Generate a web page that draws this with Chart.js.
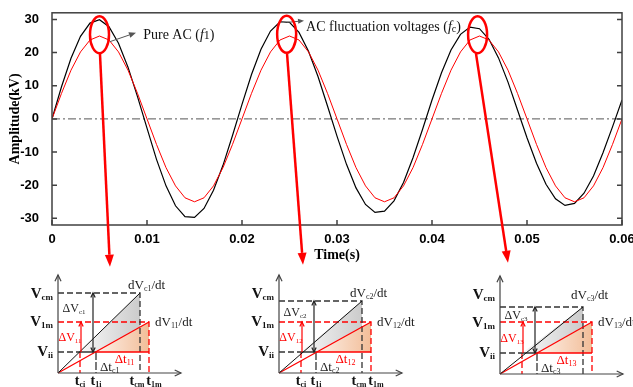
<!DOCTYPE html>
<html>
<head>
<meta charset="utf-8">
<script src="https://cdn.jsdelivr.net/npm/chart.js@4.4.1/dist/chart.umd.min.js"></script>
<style>
  body { margin: 0; background: #fff; }
  #wrap { position: relative; width: 633px; height: 387px; overflow: hidden; }
  #wrap canvas { position: absolute; }
</style>
</head>
<body>
<div id="wrap">
  <canvas id="mainChart" width="633" height="387" style="left:0px;top:0px"></canvas>
  <canvas id="inset0" width="210" height="119" style="left:0px;top:268px"></canvas>
  <canvas id="inset1" width="215" height="119" style="left:212px;top:268px"></canvas>
  <canvas id="inset2" width="208" height="119" style="left:425px;top:268px"></canvas>
</div>
<script>
// --- data ---
const timeS = [0, .001, .002, .003, .004, .005, .006, .007, .008, .009,
  .010, .011, .012, .013, .014, .015, .016, .017, .018, .019,
  .020, .021, .022, .023, .024, .025, .026, .027, .028, .029,
  .030, .031, .032, .033, .034, .035, .036, .037, .038, .039,
  .040, .041, .042, .043, .044, .045, .046, .047, .048, .049,
  .050, .051, .052, .053, .054, .055, .056, .057, .058, .059, .060];

// red curve (Pure AC)
const pureAC = [0, 7.7, 14.7, 20.2, 23.8, 25, 23.8, 20.2, 14.7, 7.7,
  0, -7.7, -14.7, -20.2, -23.8, -25, -23.8, -20.2, -14.7, -7.7,
  0, 7.7, 14.7, 20.2, 23.8, 25, 23.8, 20.2, 14.7, 7.7,
  0, -7.7, -14.7, -20.2, -23.8, -25, -23.8, -20.2, -14.7, -7.7,
  0, 7.7, 14.7, 20.2, 23.8, 25, 23.8, 20.2, 14.7, 7.7,
  0, -7.7, -14.7, -20.2, -23.8, -25, -23.8, -20.2, -14.7, -7.7, 0];

// black curve (AC fluctuation voltages)
const flucAC = [0, 9.7, 18.3, 24.9, 28.9, 29.9, 27.8, 22.8, 15.6, 6.7,
  -2.8, -12.2, -20.2, -26.2, -29.5, -29.7, -27.0, -21.5, -14.0, -5.0,
  4.4, 13.4, 21.0, 26.5, 29.3, 29.1, 26.1, 20.4, 12.8, 3.9,
  -5.2, -13.7, -20.8, -25.8, -28.2, -27.8, -24.7, -19.2, -11.7, -3.2,
  5.7, 13.9, 20.8, 25.5, 27.7, 27.2, 24.0, 18.4, 11.1, 2.7,
  -5.7, -13.4, -19.7, -24.1, -26.1, -25.5, -22.4, -17.2, -10.2, -2.4, 5.7];

const xTicks = [0, 0.01, 0.02, 0.03, 0.04, 0.05, 0.06];
const yTicks = [-30, -20, -10, 0, 10, 20, 30];

// red rings round the peaks and the arrows that leave them (data units)
const ringCentres = [[0.0050, 25.4], [0.0247, 25.5], [0.0448, 25.4]];
const ringTails = [[0.00505, 19.7], [0.02474, 19.7], [0.04463, 19.7]];
const ringTips = [[0.0061, -44.6], [0.02642, -44.0], [0.0480, -43.4]];

// small sketches under the chart (schematic units)
const insetNo = ['1', '2', '3'];
const insetVcm = [80, 72, 67];
const insetV1m = [51, 51, 52];
const insetVii = [21, 21, 21];
const insetTci = [22, 22, 22];
const insetT1i = [38, 37, 37];
const insetTcm = [82, 83, 83];
const insetT1m = [91, 92, 92];
const insetTimeLabels = [true, true, false];

const SERIF = '"Liberation Serif", "Times New Roman", serif';
const SANS = '"Liberation Sans", Arial, sans-serif';
const RED = '#ff0000';

// text with subscripts: segs = [text, font, dy]
function richText(ctx, segs, x, y, align, color) {
  let w = 0;
  segs.forEach(s => { ctx.font = s[1]; w += ctx.measureText(s[0]).width; });
  let cx = align === 'center' ? x - w / 2 : align === 'right' ? x - w : x;
  ctx.fillStyle = color;
  ctx.textAlign = 'left';
  ctx.textBaseline = 'alphabetic';
  segs.forEach(s => {
    ctx.font = s[1];
    ctx.fillText(s[0], cx, y + (s[2] || 0));
    cx += ctx.measureText(s[0]).width;
  });
}

function solidArrow(ctx, x0, y0, x1, y1, color, width, len, half) {
  const a = Math.atan2(y1 - y0, x1 - x0);
  const bx = x1 - len * Math.cos(a), by = y1 - len * Math.sin(a);
  ctx.strokeStyle = color; ctx.fillStyle = color; ctx.lineWidth = width;
  ctx.beginPath(); ctx.moveTo(x0, y0); ctx.lineTo(bx, by); ctx.stroke();
  ctx.beginPath();
  ctx.moveTo(x1, y1);
  ctx.lineTo(bx + half * Math.sin(a), by - half * Math.cos(a));
  ctx.lineTo(bx - half * Math.sin(a), by + half * Math.cos(a));
  ctx.closePath(); ctx.fill();
}

function chevron(ctx, x, y, ang, size) {
  ctx.beginPath();
  ctx.moveTo(x - size * Math.cos(ang - 0.45), y - size * Math.sin(ang - 0.45));
  ctx.lineTo(x, y);
  ctx.lineTo(x - size * Math.cos(ang + 0.45), y - size * Math.sin(ang + 0.45));
  ctx.stroke();
}

// --- main chart ---
const mainDecor = {
  id: 'mainDecor',
  afterDatasetsDraw(chart) {
    const { ctx, chartArea: a, scales: { x, y } } = chart;
    const px = v => x.getPixelForValue(v), py = v => y.getPixelForValue(v);
    ctx.save();
    ctx.strokeStyle = '#404040'; ctx.lineWidth = 1.5;
    ctx.strokeRect(a.left, a.top, a.right - a.left, a.bottom - a.top);
    ctx.beginPath();
    yTicks.forEach(v => {
      const yy = py(v);
      ctx.moveTo(a.left, yy); ctx.lineTo(a.left + 5, yy);
      ctx.moveTo(a.right, yy); ctx.lineTo(a.right - 5, yy);
    });
    xTicks.forEach(v => { const xx = px(v); ctx.moveTo(xx, a.bottom); ctx.lineTo(xx, a.bottom - 5); });
    ctx.stroke();

    // labels with pointer arrows
    solidArrow(ctx, px(0.0061), py(23.3), px(0.00884), py(26.0), '#555', 1, 7, 3);
    solidArrow(ctx, px(0.02474), py(29.1), px(0.02653), py(29.6), '#555', 1, 6, 2.5);
    richText(ctx, [['Pure AC (', '14px ' + SERIF], ['f', 'italic 14px ' + SERIF], ['1', '12px ' + SERIF], [')', '14px ' + SERIF]],
      px(0.0096), py(25.7) + 5, 'left', '#111');
    richText(ctx, [['AC fluctuation voltages (', '14px ' + SERIF], ['f', 'italic 14px ' + SERIF], ['c', '10px ' + SERIF, 1], [')', '14px ' + SERIF]],
      px(0.02674), py(28.1) + 5, 'left', '#111');

    // red rings and arrows
    ctx.strokeStyle = RED; ctx.lineWidth = 2.5;
    ringCentres.forEach(c => {
      ctx.beginPath(); ctx.ellipse(px(c[0]), py(c[1]), 9.5, 18.5, 0, 0, Math.PI * 2); ctx.stroke();
    });
    ringTails.forEach((s, i) => {
      solidArrow(ctx, px(s[0]), py(s[1]), px(ringTips[i][0]), py(ringTips[i][1]), RED, 2.5, 12, 4.5);
    });
    ctx.restore();
  }
};

const xy = ys => timeS.map((t, i) => ({ x: t, y: ys[i] }));

new Chart(document.getElementById('mainChart'), {
  type: 'scatter',
  data: {
    datasets: [
      { data: xy(pureAC), showLine: true, borderColor: RED, borderWidth: 1, pointRadius: 0, order: 0 },
      { data: xy(flucAC), showLine: true, borderColor: '#000', borderWidth: 1.2, pointRadius: 0, order: 1 },
      { data: [{ x: xTicks[0], y: 0 }, { x: xTicks[xTicks.length - 1], y: 0 }], showLine: true,
        borderColor: '#555', borderWidth: 1, borderDash: [8, 3, 2, 3], pointRadius: 0, order: 2 }
    ]
  },
  options: {
    responsive: false,
    animation: false,
    layout: { padding: { top: 11, right: 11, left: 0, bottom: 0 } },
    plugins: { legend: { display: false }, tooltip: { enabled: false } },
    scales: {
      x: {
        type: 'linear', min: 0, max: 0.06,
        afterBuildTicks: s => { s.ticks = xTicks.map(v => ({ value: v })); },
        afterFit: s => { s.height = 162; s.paddingLeft = 0; s.paddingRight = 0; },
        grid: { display: false }, border: { display: false },
        ticks: { padding: -1, maxRotation: 0, color: '#000', font: { family: SANS, size: 13, weight: 'bold' }, callback: v => String(v) },
        title: { display: true, text: 'Time(s)', color: '#000', font: { family: SERIF, size: 14, weight: 'bold' }, padding: { top: 0, bottom: 123 } }
      },
      y: {
        min: -32, max: 32,
        afterBuildTicks: s => { s.ticks = yTicks.map(v => ({ value: v })); },
        afterFit: s => { s.width = 52; },
        grid: { display: false }, border: { display: false },
        ticks: { padding: 5, color: '#000', font: { family: SANS, size: 13, weight: 'bold' }, callback: v => String(v) },
        title: { display: true, text: 'Amplitude(kV)', color: '#000', font: { family: SERIF, size: 14, weight: 'bold' }, padding: { top: 7, bottom: 0 } }
      }
    }
  },
  plugins: [mainDecor]
});

// --- the three sketches ---
// canvas left, top, width, height and where the sketch origin sits on the page
const insetPos = [[0, 268, 210, 119, 58, 373], [212, 268, 215, 119, 279, 373], [425, 268, 208, 119, 500, 374]];

function buildInset(i) {
  const pos = insetPos[i];
  const n = insetNo[i];
  const Vcm = insetVcm[i], V1m = insetV1m[i], Vii = insetVii[i];
  const tci = insetTci[i], t1i = insetT1i[i], tcm = insetTcm[i], t1m = insetT1m[i];
  const redAtTcm = V1m * tcm / t1m;
  const xMin = -(pos[4] - pos[0]);
  const yMax = pos[5] - pos[1];

  const seg = (pts, color, width, dash, order) => ({
    data: pts.map(p => ({ x: p[0], y: p[1] })), showLine: true, borderColor: color,
    borderWidth: width, borderDash: dash || [], pointRadius: 0, fill: false, order: order || 1
  });
  const grad = (c0, c1, from, to, fallback) => c => {
    const ch = c.chart;
    if (!ch.chartArea || !ch.scales.x) return fallback;
    const g = ch.ctx.createLinearGradient(ch.scales.x.getPixelForValue(from), 0, ch.scales.x.getPixelForValue(to), 0);
    g.addColorStop(0, c0); g.addColorStop(1, c1);
    return g;
  };

  const datasets = [
    seg([[0, 0], [tcm, Vcm]], '#111', 1),
    seg([[0, 0], [t1m, V1m]], RED, 1.3),
    seg([[t1i, Vii], [t1m, Vii]], RED, 1.6),
    seg([[tci, Vii], [t1i, Vii]], '#333', 1.5),
    seg([[0, Vcm], [tcm, Vcm], [tcm, 0]], '#333', 1.3, [6, 3]),
    seg([[0, V1m], [t1m, V1m], [t1m, 0]], RED, 1.3, [6, 3]),
    seg([[0, Vii], [tci, Vii]], '#333', 1.3, [6, 3]),
    seg([[tci, Vii], [tci, 0]], RED, 1.3, [6, 3]),
    seg([[t1i, Vii], [t1i, 0]], '#333', 1.3, [8, 2]),
    { data: [[tci, Vii], [tcm, Vcm], [tcm, redAtTcm], [t1i, Vii]].map(p => ({ x: p[0], y: p[1] })),
      showLine: true, borderWidth: 0, pointRadius: 0, fill: 'shape', order: 5,
      backgroundColor: grad('#f8f8f8', '#cbcbcb', tci, tcm, '#dddddd') },
    { data: [[t1i, Vii], [t1m, Vii], [t1m, V1m]].map(p => ({ x: p[0], y: p[1] })),
      showLine: true, borderWidth: 0, pointRadius: 0, fill: 'shape', order: 5,
      backgroundColor: grad('#fdf1e9', '#f2bd98', t1i, t1m, '#f6d2b8') }
  ];

  const decor = {
    id: 'insetDecor' + i,
    afterDatasetsDraw(chart) {
      const { ctx, scales: { x, y } } = chart;
      const px = v => x.getPixelForValue(v), py = v => y.getPixelForValue(v);
      ctx.save();
      // axes with open heads
      ctx.strokeStyle = '#444'; ctx.lineWidth = 1.2;
      ctx.beginPath();
      ctx.moveTo(px(0), py(0)); ctx.lineTo(px(123), py(0));
      ctx.moveTo(px(0), py(0)); ctx.lineTo(px(0), py(98));
      ctx.stroke();
      chevron(ctx, px(123), py(0), 0, 7);
      chevron(ctx, px(0), py(98), -Math.PI / 2, 7);
      // delta V arrows
      ctx.strokeStyle = '#222'; ctx.lineWidth = 1.2;
      ctx.beginPath(); ctx.moveTo(px(35), py(Vcm)); ctx.lineTo(px(35), py(Vii)); ctx.stroke();
      chevron(ctx, px(35), py(Vcm), -Math.PI / 2, 5);
      chevron(ctx, px(35), py(Vii), Math.PI / 2, 5);
      ctx.strokeStyle = RED;
      ctx.beginPath(); ctx.moveTo(px(23), py(Vii)); ctx.lineTo(px(23), py(V1m)); ctx.stroke();
      chevron(ctx, px(23), py(V1m), -Math.PI / 2, 5);

      // axis labels
      const big = 'bold 15px ' + SERIF, bigSub = 'bold 9px ' + SERIF;
      richText(ctx, [['V', big], ['cm', bigSub, 2]], px(-5), py(80) + 5, 'right', '#111');
      richText(ctx, [['V', big], ['1m', bigSub, 2]], px(-5), py(52) + 5, 'right', '#111');
      richText(ctx, [['V', big], ['ii', bigSub, 2]], px(-5), py(22) + 5, 'right', '#111');

      const mid = '13px ' + SERIF, midSub = '8px ' + SERIF;
      richText(ctx, [['dV', mid], ['c' + n, midSub, 2], ['/dt', mid]], px(tcm - 12), py(Math.max(Vcm + 9, 80)) + 4.5, 'left', '#222');
      richText(ctx, [['dV', mid], ['1' + n, midSub, 2], ['/dt', mid]], px(t1m + 6), py(V1m + 1) + 4.5, 'left', '#222');

      const sm = '12px ' + SERIF, smSub = '7px ' + SERIF;
      richText(ctx, [['\u0394V', sm], ['c' + n, smSub, 2]], px(16), py((Vcm + V1m) / 2) + 4, 'center', '#222');
      richText(ctx, [['\u0394V', sm], ['1' + n, smSub, 2]], px(12), py((V1m + Vii) / 2) + 4, 'center', RED);
      richText(ctx, [['\u0394t', mid], ['1' + n, midSub, 2]], px((t1i + t1m) / 2 + 2), py(Vii - 6) + 4.5, 'center', RED);
      richText(ctx, [['\u0394t', mid], ['c' + n, midSub, 2]], px(t1i + 4), py(Vii - 14) + 4.5, 'left', '#222');

      if (insetTimeLabels[i]) {
        const tf = 'bold 14px ' + SERIF, tfSub = 'bold 8px ' + SERIF;
        const yy = py(-6.5) + 5;
        richText(ctx, [['t', tf], ['ci', tfSub, 2]], px(tci), yy, 'center', '#111');
        richText(ctx, [['t', tf], ['1i', tfSub, 2]], px(t1i), yy, 'center', '#111');
        richText(ctx, [['t', tf], ['cm', tfSub, 2]], px(tcm - 3), yy, 'center', '#111');
        richText(ctx, [['t', tf], ['1m', tfSub, 2]], px(t1m + 5), yy, 'center', '#111');
      }
      ctx.restore();
    }
  };

  new Chart(document.getElementById('inset' + i), {
    type: 'scatter',
    data: { datasets },
    options: {
      responsive: false,
      animation: false,
      layout: { padding: 0 },
      plugins: { legend: { display: false }, tooltip: { enabled: false } },
      scales: {
        x: { type: 'linear', display: false, min: xMin, max: xMin + pos[2] },
        y: { type: 'linear', display: false, min: yMax - pos[3], max: yMax }
      }
    },
    plugins: [decor]
  });
}

insetNo.forEach((n, i) => buildInset(i));
</script>
</body>
</html>
